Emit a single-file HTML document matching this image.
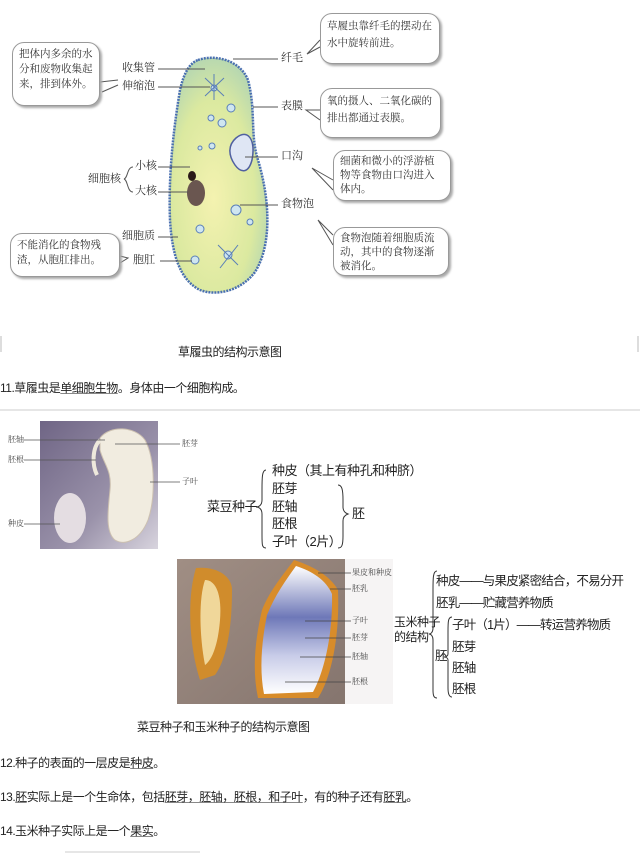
<!DOCTYPE html>
<html><head><meta charset="utf-8"><style>
*{margin:0;padding:0;box-sizing:border-box}
body{width:640px;height:854px;background:#fff;position:relative;overflow:hidden;font-family:"Liberation Sans","Noto Sans CJK SC",sans-serif;color:#222}
.t{position:absolute;white-space:nowrap;line-height:1}
.s{font-family:"Liberation Serif","Noto Serif CJK SC",serif;font-size:11px;color:#333}
.b{position:absolute;background:#fff;border:1.5px solid #999;border-radius:12px;box-shadow:2px 2px 2px #aaa;font-family:"Liberation Serif","Noto Serif CJK SC",serif;font-size:10.5px;line-height:17px;color:#333;padding:4px 6px}
.m{font-size:12px;letter-spacing:-0.5px}
.u{text-decoration:underline;text-decoration-color:#888}
.c{font-size:13px;letter-spacing:-0.5px}
.c2{font-size:12.5px;letter-spacing:-0.8px}
.sm{font-family:"Liberation Serif","Noto Serif CJK SC",serif;font-size:8px;color:#444}
</style></head><body>

<svg width="640" height="854" style="position:absolute;left:0;top:0">
<defs>
<radialGradient id="g1" cx="0.45" cy="0.6" r="0.6"><stop offset="0" stop-color="#f4f2b0"/><stop offset="0.7" stop-color="#dbe9a0"/><stop offset="1" stop-color="#b8d8b0"/></radialGradient>
<linearGradient id="bean" x1="0" y1="0" x2="1" y2="1"><stop offset="0" stop-color="#6f6585"/><stop offset="0.6" stop-color="#9a92aa"/><stop offset="1" stop-color="#d8d4de"/></linearGradient>
<linearGradient id="corn" x1="0" y1="0" x2="1" y2="1"><stop offset="0" stop-color="#a08e84"/><stop offset="1" stop-color="#85756e"/></linearGradient>
<linearGradient id="endo" x1="0" y1="0" x2="0" y2="1"><stop offset="0" stop-color="#fff"/><stop offset="0.4" stop-color="#6e78b8"/><stop offset="0.7" stop-color="#c8cce8"/><stop offset="1" stop-color="#fff"/></linearGradient>
</defs>
<path d="M198,60 C215,54 240,60 248,80 C256,110 250,135 258,160 C270,200 272,245 255,272 C240,292 215,296 200,290 C180,280 172,255 170,220 C168,170 175,120 180,90 C184,72 190,63 198,60 Z" fill="url(#g1)" stroke="#4a70b0" stroke-width="2.5" stroke-dasharray="2 1"/>
<path d="M236,138 C248,128 256,140 252,160 C248,175 240,172 235,165 C228,155 228,145 236,138 Z" fill="#dfe6f4" stroke="#5060a0" stroke-width="1.5"/>
<ellipse cx="196" cy="193" rx="9" ry="13" fill="#6a5650"/>
<ellipse cx="192" cy="176" rx="4" ry="5" fill="#2a1a18"/>
<g stroke="#5a7fb8" stroke-width="1" fill="#cfe6f0">
<circle cx="214" cy="88" r="3"/><circle cx="231" cy="108" r="4"/><circle cx="211" cy="118" r="3"/><circle cx="222" cy="123" r="4"/><circle cx="212" cy="146" r="3"/><circle cx="200" cy="148" r="2"/><circle cx="236" cy="210" r="5"/><circle cx="250" cy="222" r="3"/><circle cx="200" cy="229" r="4"/><circle cx="228" cy="255" r="4"/><circle cx="195" cy="260" r="4"/>
</g>
<g stroke="#5a7fb8" stroke-width="1"><line x1="205" y1="78" x2="224" y2="96"/><line x1="224" y1="78" x2="205" y2="96"/><line x1="214" y1="74" x2="214" y2="100"/><line x1="218" y1="245" x2="238" y2="265"/><line x1="238" y1="245" x2="220" y2="268"/></g>
<g stroke="#555" stroke-width="1" fill="none">
<line x1="158" y1="69" x2="205" y2="69"/><line x1="158" y1="87" x2="210" y2="87"/>
<line x1="233" y1="59" x2="278" y2="59"/><line x1="253" y1="107" x2="278" y2="107"/>
<line x1="245" y1="157" x2="278" y2="157"/><line x1="240" y1="205" x2="278" y2="205"/>
<line x1="158" y1="167" x2="190" y2="167"/><line x1="158" y1="192" x2="188" y2="192"/>
<line x1="158" y1="237" x2="178" y2="237"/><line x1="160" y1="261" x2="192" y2="261"/>
<path d="M133,167 C127,167 128,178 124,179 C128,180 127,192 133,192"/>
<path d="M100,82 L118,80 M102,92 L118,85"/>
<path d="M320,40 L307,54 L320,47"/>
<path d="M320,110 L306,110 L320,120"/>
<path d="M333,180 L312,168 L333,190"/>
<path d="M333,245 L318,220 L333,235"/>
<path d="M120,256 L128,258 L120,263"/>
</g>
<line x1="0" y1="410" x2="640" y2="410" stroke="#ccc" stroke-width="1"/>
<line x1="1" y1="336" x2="1" y2="352" stroke="#bbb"/><line x1="638" y1="336" x2="638" y2="352" stroke="#bbb"/>
<!-- bean photo -->
<rect x="40" y="421" width="118" height="128" fill="url(#bean)"/>
<path d="M100,438 C110,425 135,426 145,440 C156,460 155,500 148,520 C140,540 125,546 115,540 C105,532 108,510 110,490 C112,470 104,465 100,450 Z" fill="#f1ece0" stroke="#ccc0b0"/>
<path d="M100,440 C92,448 92,465 97,475" fill="none" stroke="#eee8dc" stroke-width="4"/>
<ellipse cx="70" cy="518" rx="16" ry="25" fill="#e4dde2"/>
<g stroke="#555" stroke-width="0.8"><line x1="24" y1="440" x2="105" y2="440"/><line x1="24" y1="460" x2="96" y2="460"/><line x1="24" y1="524" x2="60" y2="524"/><line x1="115" y1="444" x2="180" y2="444"/><line x1="150" y1="482" x2="180" y2="482"/></g>
<g stroke="#333" stroke-width="1" fill="none">
<path d="M266,470 C262,470 262,478 262,490 L262,500 C262,505 259,507 256,507 C259,507 262,509 262,514 L262,535 C262,545 262,548 266,548"/>
<path d="M338,485 C342,485 343,490 343,500 L343,507 C343,511 345,513 348,514 C345,515 343,517 343,521 L343,536 C343,545 342,548 338,548"/>
</g>
<!-- corn photo -->
<rect x="177" y="559" width="168" height="145" fill="url(#corn)"/>
<path d="M196,568 C215,566 232,575 232,590 C232,630 226,660 215,675 L200,680 C190,650 186,600 196,568 Z" fill="#d08c2c"/>
<path d="M205,580 C216,580 222,595 220,620 C218,645 212,660 205,665 C200,640 198,600 205,580 Z" fill="#f0d79a"/>
<path d="M294,560 C310,565 330,575 338,590 C340,640 330,680 318,698 L258,698 C252,670 255,640 262,610 C270,590 283,575 294,560 Z" fill="#d88c2a"/>
<path d="M296,566 C312,571 326,580 332,594 C333,640 322,676 313,692 L264,694 C259,668 262,640 267,615 C275,595 286,580 296,566 Z" fill="url(#endo)"/>
<rect x="345" y="559" width="48" height="145" fill="#f6f4f4"/>
<g stroke="#444" stroke-width="0.8"><line x1="318" y1="573" x2="351" y2="573"/><line x1="330" y1="589" x2="351" y2="589"/><line x1="305" y1="621" x2="351" y2="621"/><line x1="305" y1="638" x2="351" y2="638"/><line x1="300" y1="657" x2="351" y2="657"/><line x1="285" y1="682" x2="351" y2="682"/></g>
<g stroke="#333" stroke-width="1" fill="none">
<path d="M437,571 C433,571 433,578 433,590 L433,628 C433,632 431,634 429,634 C431,634 433,636 433,640 L433,690 C433,696 434,698 437,698"/>
<path d="M452,617 C448,617 448,622 448,632 L448,654 C448,656 446,657 444,657 C446,657 448,658 448,660 L448,688 C448,694 449,697 452,697"/>
</g>
<line x1="65" y1="852" x2="200" y2="852" stroke="#ccc"/>
</svg>

<div class="b" style="left:12px;top:42px;width:88px;height:64px;line-height:15px">把体内多余的水分和废物收集起来，排到体外。</div>
<div class="b" style="left:320px;top:13px;width:120px;height:51px">草履虫靠纤毛的摆动在水中旋转前进。</div>
<div class="b" style="left:320px;top:88px;width:121px;height:50px">氧的摄人、二氧化碳的排出都通过表膜。</div>
<div class="b" style="left:333px;top:150px;width:118px;height:51px;line-height:14px">细菌和微小的浮游植物等食物由口沟进入体内。</div>
<div class="b" style="left:333px;top:227px;width:116px;height:49px;line-height:14px">食物泡随着细胞质流动，其中的食物逐渐被消化。</div>
<div class="b" style="left:10px;top:233px;width:110px;height:44px;line-height:15px">不能消化的食物残渣，从胞肛排出。</div>

<div class="t s" style="left:122px;top:63px">收集管</div>
<div class="t s" style="left:122px;top:81px">伸缩泡</div>
<div class="t s" style="left:281px;top:53px">纤毛</div>
<div class="t s" style="left:281px;top:101px">表膜</div>
<div class="t s" style="left:281px;top:151px">口沟</div>
<div class="t s" style="left:281px;top:199px">食物泡</div>
<div class="t s" style="left:135px;top:161px">小核</div>
<div class="t s" style="left:135px;top:186px">大核</div>
<div class="t s" style="left:88px;top:174px">细胞核</div>
<div class="t s" style="left:122px;top:231px">细胞质</div>
<div class="t s" style="left:133px;top:255px">胞肛</div>

<div class="t m" style="left:178px;top:346px">草履虫的结构示意图</div>
<div class="t m" style="left:0;top:382px">11.草履虫是<span class="u">单细胞生物</span>。身体由一个细胞构成。</div>

<div class="t sm" style="left:8px;top:436px">胚轴</div>
<div class="t sm" style="left:8px;top:456px">胚根</div>
<div class="t sm" style="left:8px;top:520px">种皮</div>
<div class="t sm" style="left:182px;top:440px">胚芽</div>
<div class="t sm" style="left:182px;top:478px">子叶</div>

<div class="t c" style="left:207px;top:500px">菜豆种子</div>
<div class="t c" style="left:272px;top:464px">种皮（其上有种孔和种脐）</div>
<div class="t c" style="left:272px;top:482px">胚芽</div>
<div class="t c" style="left:272px;top:500px">胚轴</div>
<div class="t c" style="left:272px;top:517px">胚根</div>
<div class="t c" style="left:272px;top:535px">子叶（2片）</div>
<div class="t c" style="left:352px;top:507px">胚</div>

<div class="t sm" style="left:352px;top:569px">果皮和种皮</div>
<div class="t sm" style="left:352px;top:585px">胚乳</div>
<div class="t sm" style="left:352px;top:617px">子叶</div>
<div class="t sm" style="left:352px;top:634px">胚芽</div>
<div class="t sm" style="left:352px;top:653px">胚轴</div>
<div class="t sm" style="left:352px;top:678px">胚根</div>

<div class="t c" style="left:394px;top:615px;line-height:15px;font-size:12px">玉米种子<br>的结构</div>
<div class="t c2" style="left:436px;top:575px">种皮——与果皮紧密结合，不易分开</div>
<div class="t c2" style="left:436px;top:597px">胚乳——贮藏营养物质</div>
<div class="t c2" style="left:452px;top:619px">子叶（1片）——转运营养物质</div>
<div class="t c2" style="left:435px;top:650px">胚</div>
<div class="t c2" style="left:452px;top:641px">胚芽</div>
<div class="t c2" style="left:452px;top:662px">胚轴</div>
<div class="t c2" style="left:452px;top:683px">胚根</div>

<div class="t m" style="left:137px;top:721px">菜豆种子和玉米种子的结构示意图</div>
<div class="t m" style="left:0;top:757px">12.种子的表面的一层皮是<span class="u">种皮</span>。</div>
<div class="t m" style="left:0;top:791px">13.<span class="u">胚</span>实际上是一个生命体，包括<span class="u">胚芽，胚轴，胚根，和子叶</span>，有的种子还有<span class="u">胚乳</span>。</div>
<div class="t m" style="left:0;top:825px">14.玉米种子实际上是一个<span class="u">果实</span>。</div>
</body></html>
